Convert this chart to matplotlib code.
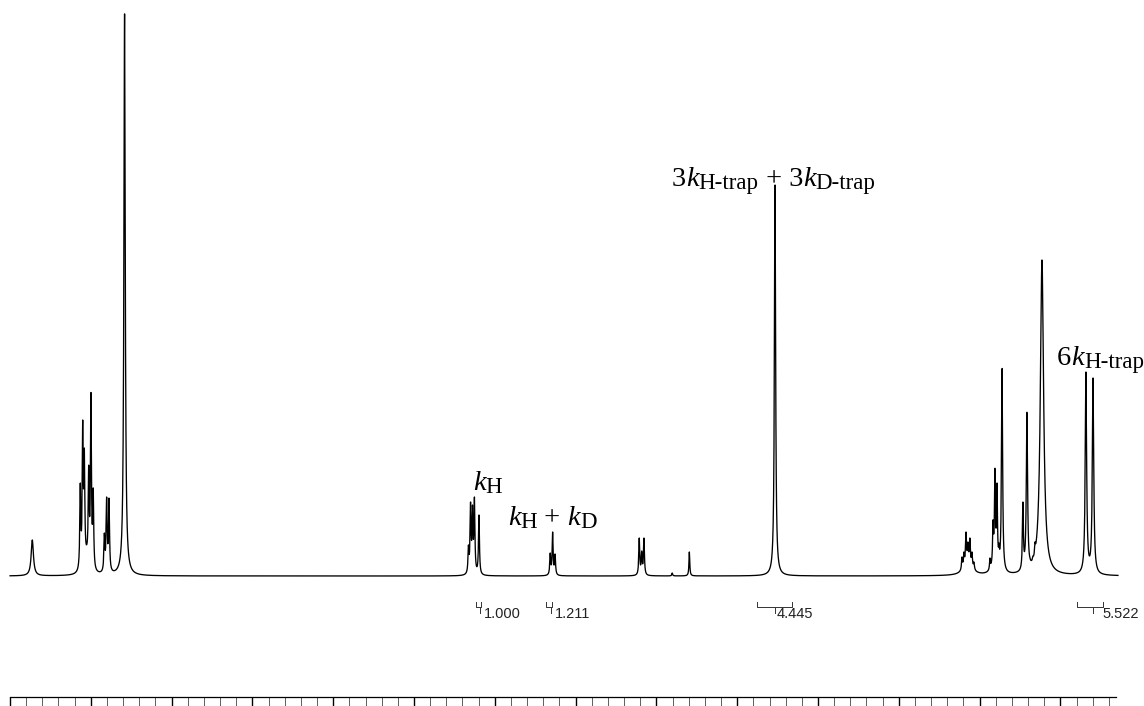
import numpy as np
import matplotlib
matplotlib.use("Agg")
import matplotlib.pyplot as plt
from matplotlib.ticker import FixedLocator

peak_ppm = [7.862, 7.565, 7.550, 7.540, 7.513, 7.499, 7.485, 7.416, 7.402, 7.387, 7.291,
            5.163, 5.150, 5.138, 5.126, 5.098,
            4.657, 4.642, 4.627,
            4.106, 4.091, 4.077, 3.902, 3.796,
            3.266,
            2.109, 2.097, 2.084, 2.072, 2.060, 2.047, 2.035,
            1.936, 1.917, 1.905, 1.892, 1.880, 1.861,
            1.732, 1.707, 1.688, 1.670, 1.657,
            1.614, 1.342, 1.298]
peak_height = [36, 93, 156, 128, 111, 184, 88, 43, 79, 78, 563,
               31, 74, 71, 79, 61,
               23, 44, 22,
               38, 25, 38, 3, 24,
               391,
               19, 24, 44, 34, 38, 24, 14,
               18, 56, 108, 93, 33, 208,
               74, 164, 18, 20, 34,
               316, 204, 198]
peak_width = [0.0084, 0.0035, 0.0035, 0.0035, 0.0035, 0.0035, 0.0035, 0.0035, 0.0035, 0.0035, 0.005,
              0.0035, 0.0035, 0.0035, 0.0035, 0.0035,
              0.0035, 0.0035, 0.0035,
              0.0035, 0.0035, 0.0035, 0.003, 0.003,
              0.0045,
              0.0035, 0.0035, 0.0035, 0.0035, 0.0035, 0.0035, 0.0035,
              0.003, 0.003, 0.003, 0.003, 0.003, 0.004,
              0.0035, 0.0045, 0.003, 0.003, 0.003,
              0.012, 0.005, 0.005]

# broad humps under the multiplets
hump_ppm = [7.525, 7.400, 2.072, 1.905]
hump_height = [12, 8, 12, 20]
hump_width = [0.015, 0.008, 0.03, 0.015]

# integrals: left edge, right edge, tick, label start, value
int_left = [5.1163, 4.6832, 3.3775, 1.3973]
int_right = [5.0854, 4.6460, 3.1609, 1.2364]
int_tick = [5.0916, 4.6522, 3.2661, 1.2983]
int_text = [5.0668, 4.6275, 3.2537, 1.2426]
int_value = ["1.000", "1.211", "4.445", "5.522"]

# peak labels: pieces of (text, kind) where kind is main / italic / sub
lab_parts = [
    [("k", "it"), ("H", "sub")],
    [("k", "it"), ("H", "sub"), (" + ", "rm"), ("k", "it"), ("D", "sub")],
    [("3", "rm"), ("k", "it"), ("H-trap", "sub"), (" + 3", "rm"), ("k", "it"), ("D-trap", "sub")],
    [("6", "rm"), ("k", "it"), ("H-trap", "sub")],
]
lab_ppm = [5.135, 4.918, 3.9035, 1.521]
lab_y = [86, 51, 390, 211]


def lorentz(x, x0, g):
    return g**2 / (g**2 + (x - x0)**2)


pp = np.array(peak_ppm)
hh = np.array(peak_height, dtype=float)
ww = np.array(peak_width)

base = np.zeros_like(pp)
for c, h, g in zip(hump_ppm, hump_height, hump_width):
    base += h * lorentz(pp, c, g)

# amplitudes so that the summed spectrum hits the observed heights
A = lorentz(pp[:, None], pp[None, :], ww[None, :])
amp = np.linalg.solve(A, hh - base)
amp = np.clip(amp, 0.5, None)

x = np.arange(1.144, 8.0, 0.0004)
y = np.zeros_like(x)
for c, h, g in zip(pp, amp, ww):
    y += h * lorentz(x, c, g)
for c, h, g in zip(hump_ppm, hump_height, hump_width):
    y += h * lorentz(x, c, g)

fig = plt.figure(figsize=(11.44, 7.06), dpi=100)
ax = fig.add_axes([0, 9 / 706, 1, 697 / 706])
ax.plot(x, y, color='black', lw=0.95)
ax.set_xlim(8.0619, 0.9827)
ax.set_ylim(-121, 576)

for s in ['left', 'right', 'top']:
    ax.spines[s].set_visible(False)
ax.spines['bottom'].set_bounds(1.156, 8.0)
ax.spines['bottom'].set_linewidth(0.9)
ax.yaxis.set_visible(False)

majors = [v / 10 for v in range(15, 81, 5)]
minors = [v / 10 for v in range(12, 80) if v % 5 != 0]
ax.xaxis.set_major_locator(FixedLocator(majors))
ax.xaxis.set_minor_locator(FixedLocator(minors))
ax.tick_params(axis='x', which='major', direction='out', length=11, width=1.0, labelbottom=False)
ax.tick_params(axis='x', which='minor', direction='out', length=6.5, width=0.6, color='#444444')

# integral brackets
for l, r, t, tx, v in zip(int_left, int_right, int_tick, int_text, int_value):
    ax.plot([l, l, r, r], [-26, -31, -31, -26], color='#333333', lw=0.7)
    ax.plot([t, t], [-31, -37], color='#333333', lw=0.7)
    ax.text(tx, -42, v, fontsize=10.5, family='Liberation Sans', color='#222222',
            ha='left', va='baseline')

# peak labels built piece by piece on a common baseline
main_size = 20.5
sub_size = 16.5
for parts, px, py in zip(lab_parts, lab_ppm, lab_y):
    prev = None
    for s, kind in parts:
        size = sub_size if kind == "sub" else main_size
        style = "italic" if kind == "it" else "normal"
        drop = -2.2 if kind == "sub" else 0
        if prev is None:
            prev = ax.text(px, py, s, fontsize=size, fontstyle=style, family='Liberation Serif',
                           ha='left', va='baseline')
        else:
            prev = ax.annotate(s, xy=(1, py), xycoords=(prev, 'data'),
                               xytext=(0, drop), textcoords='offset points',
                               fontsize=size, fontstyle=style, family='Liberation Serif',
                               ha='left', va='baseline')

fig.savefig('out.png', dpi=100)
